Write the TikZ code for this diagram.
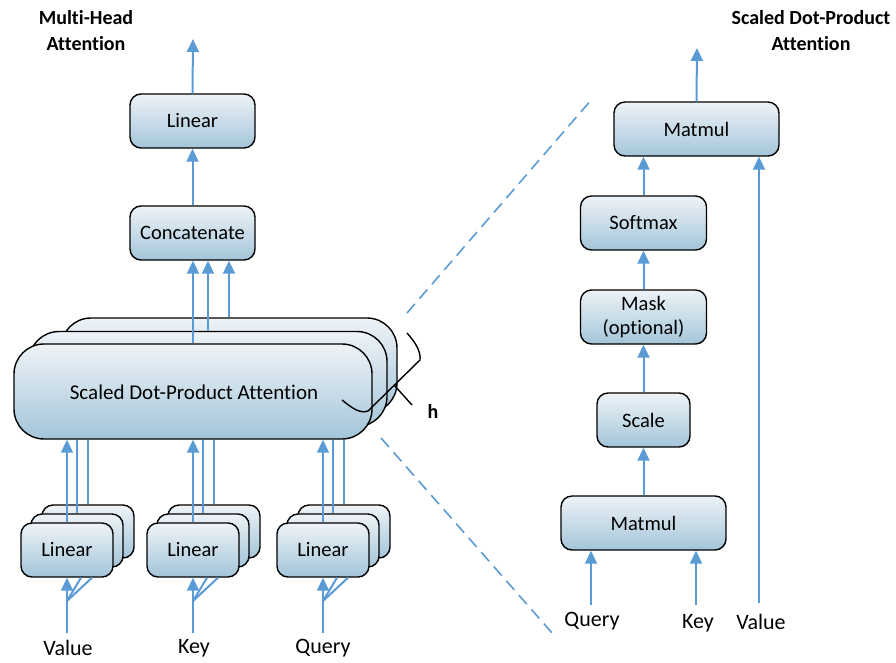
\documentclass[tikz,border=0pt]{standalone}
\usepackage{fontspec}
\setmainfont{Carlito}[Ligatures=NoCommon]
\usetikzlibrary{arrows.meta}
\definecolor{arrc}{HTML}{5B9BD5}
\definecolor{boxtop}{HTML}{EEF3F7}
\definecolor{boxbot}{HTML}{A3C5D9}
\begin{document}
\begin{tikzpicture}[x=1pt,y=-1pt,
  blk/.style={draw=black, line width=1.4pt, rounded corners=11pt, top color=boxtop, bottom color=boxbot, inner sep=0pt, font=\fontsize{20.5}{23}\selectfont, align=center},
  big/.style={blk, rounded corners=30pt},
  arr/.style={draw=arrc, line width=2pt, -{Triangle[width=12pt,length=13pt]}},
  ln/.style={draw=arrc, line width=2pt},
  lbl/.style={inner sep=0pt, font=\fontsize{22}{26}\selectfont},
  ttl/.style={inner sep=0pt, font=\fontsize{20}{26}\selectfont\bfseries, align=center},
  dsh/.style={draw=arrc, line width=1.6pt, dash pattern=on 12pt off 7pt}]
\useasboundingbox (0,0) rectangle (896,662);

% titles
\node[ttl] (t1) at (86,31) {Multi-Head\\Attention};
\node[ttl] (t2) at (811,31) {Scaled Dot-Product\\Attention};

% ---------- left: multi-head ----------
\node[blk, minimum width=125pt, minimum height=54pt] (lin) at (192.5,121) {Linear};
\node[blk, minimum width=125pt, minimum height=54pt] (cat) at (192.5,233) {Concatenate};
\coordinate (outl) at (193,39);

% SDPA stack
\node[big, minimum width=336pt, minimum height=95pt] (s3) at (229,365.5) {};
\node[big, minimum width=358pt, minimum height=95pt] (s2) at (208,379) {};
\node[big, minimum width=358pt, minimum height=95pt] (s1) at (193,391.5) {};
\node[lbl, font=\fontsize{21}{24}\selectfont] at (194,392) {Scaled Dot-Product Attention};

% Linear stacks
\foreach \n/\cx in {v/67, k/193, q/323}{
  \node[blk, minimum width=92pt, minimum height=53pt] (\n3) at (\cx+21,531.5) {};
  \node[blk, minimum width=92pt, minimum height=53pt] (\n2) at (\cx+10,540.5) {};
  \node[blk, minimum width=92pt, minimum height=54pt] (\n1) at (\cx,550) {Linear};
}

% labels
\node[lbl] (lv) at (68,648) {Value};
\node[lbl] (lk) at (194,648) {Key};
\node[lbl] (lq) at (323,648) {Query};

% inputs to linear stacks
\foreach \n/\cx in {v/67, k/193, q/323}{
  \coordinate (\n s) at (\cx,601);
  \coordinate (\n b) at (\cx,633);
  \draw[ln] (\n b) -- (\n s);
  \draw[arr] (\n s) -- (\n s |- \n1.south);
  \draw[ln] (\n s) -- ([xshift=14pt]\n1.south);
  \draw[ln] (\n s) -- ([xshift=25pt]\n1.south);
  % outputs to SDPA
  \draw[arr] (\n1.north) -- (\n1.north |- s1.south);
  \draw[ln] (\n2.north) -- (\n2.north |- s1.south);
  \draw[ln] (\n3.north) -- (\n3.north |- s1.south);
}

% SDPA to concatenate
\draw[arr] (s1.north) -- (s1.north |- cat.south);
\draw[arr] (s2.north) -- (s2.north |- cat.south);
\draw[arr] (s3.north) -- (s3.north |- cat.south);
\draw[arr] (cat.north) -- (lin.south);
\draw[arr] (lin.north) -- (outl);

% brace h
\draw[line width=1.4pt, black] (407,333) .. controls (416,343) and (421,352) .. (420,360)
   -- (368,411) .. controls (360,414) and (352,408) .. (342,400);
\coordinate (bm) at (394,385);
\node[inner sep=0pt, font=\fontsize{20}{22}\selectfont\bfseries] (h) at (433,411) {h};
\draw[line width=1.4pt, black] (bm) -- (412,405);

% dashed zoom lines
\coordinate (d1a) at (407,313);
\coordinate (d1b) at (592,99);
\coordinate (d2a) at (381,438);
\coordinate (d2b) at (553,634);
\draw[dsh] (d1a) -- (d1b);
\draw[dsh] (d2a) -- (d2b);

% ---------- right: scaled dot-product ----------
\node[blk, minimum width=165pt, minimum height=54pt] (mt) at (696.5,129) {Matmul};
\node[blk, minimum width=126pt, minimum height=54pt] (sm) at (643.5,223) {Softmax};
\node[blk, minimum width=126pt, minimum height=54pt, font=\fontsize{20.5}{23.5}\selectfont] (mk) at (643.5,317) {Mask\\(optional)};
\node[blk, minimum width=93pt, minimum height=54pt] (sc) at (643.5,420) {Scale};
\node[blk, minimum width=165pt, minimum height=54pt] (mb) at (643.5,523) {Matmul};

\node[lbl] (rq) at (592,621) {Query};
\node[lbl] (rk) at (698,623) {Key};
\node[lbl] (rv) at (761,622) {Value};
\coordinate (rqs) at (591,605);
\coordinate (rks) at (696,605);
\coordinate (rvs) at (759,603);
\coordinate (outr) at (697,48);

\draw[arr] (rqs) -- (rqs |- mb.south);
\draw[arr] (rks) -- (rks |- mb.south);
\draw[arr] (rvs) -- (rvs |- mt.south);
\draw[arr] (mb.north) -- (sc.south);
\draw[arr] (sc.north) -- (mk.south);
\draw[arr] (mk.north) -- (sm.south);
\draw[arr] (sm.north) -- (sm.north |- mt.south);
\draw[arr] (mt.north) -- (outr);
\end{tikzpicture}
\end{document}
